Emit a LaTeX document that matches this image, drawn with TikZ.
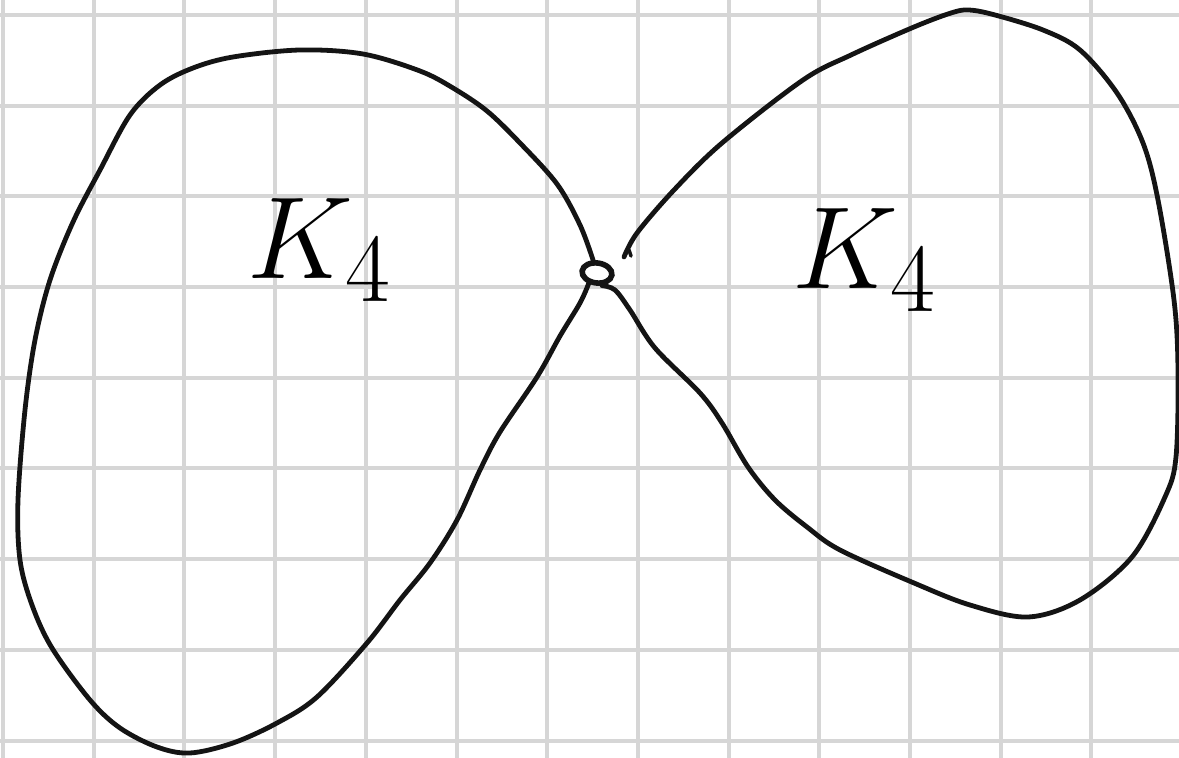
\documentclass[tikz,border=0pt]{standalone}
\usepackage{tikz}
\usetikzlibrary{shapes.geometric}
\tikzset{
  gridline/.style={black!16, line width=2pt},
  blob/.style={black!92, line width=2.4pt, line cap=round, line join=round},
  graphlabel/.style={font=\Huge, scale=2.35, inner sep=0pt},
  cutvertex/.style={draw=black!92, ellipse, line width=2.8pt, minimum width=15pt, minimum height=10pt, inner sep=0pt, rotate=-8}
}

\begin{document}
\begin{tikzpicture}[x=0.5pt,y=-0.5pt]
\useasboundingbox (0,0) rectangle (1179,758);
\fill[white] (0,0) rectangle (1179,758);
% squared paper
\foreach \gx in {0,...,12} \draw[gridline] ({3+90.7*\gx},0) -- ({3+90.7*\gx},758);
\foreach \gy in {0,...,8} \draw[gridline] (0,{15+90.7*\gy}) -- (1179,{15+90.7*\gy});
% the shared vertex
\node[cutvertex] (v) at (597,273) {};
% left block
\draw[blob] plot[smooth, tension=0.55] coordinates {(v.115) (580,225) (557,184) (520,143) (487,111) (453,88) (420,71) (363,54) (300,50) (233,57) (193,68) (160,85) (130,115) (100,170) (73,222) (50,280) (35,340) (25,410) (18,500) (20,560) (32,605) (52,648) (90,700) (120,728) (157,747) (190,753) (233,743) (277,723) (317,697) (367,643) (400,600) (430,563) (457,520) (480,470) (500,432) (537,377) (560,336) (580,303) (v.240)};
% right block
\coordinate (rend) at (624,257);
\draw[blob] plot[smooth, tension=0.55] coordinates {(v.300) (615,290) (630,310) (655,348) (700,393) (722,423) (748,467) (775,500) (807,527) (840,550) (914,583) (970,605) (1028,617) (1080,600) (1132,557) (1165,497) (1176,457) (1178,370) (1174,300) (1158,200) (1143,143) (1117,93) (1080,50) (1043,30) (995,15) (969,10) (951,13) (914,27) (851,55) (803,80) (722,143) (674,190) (637,233) (rend)};
\draw[blob, line width=1.8pt] (629,250) -- (631,256);
% labels
\node[graphlabel] (kleft) at (320,250) {$K_4$};
\node[graphlabel] (kright) at (865,260) {$K_4$};
\end{tikzpicture}
\end{document}
